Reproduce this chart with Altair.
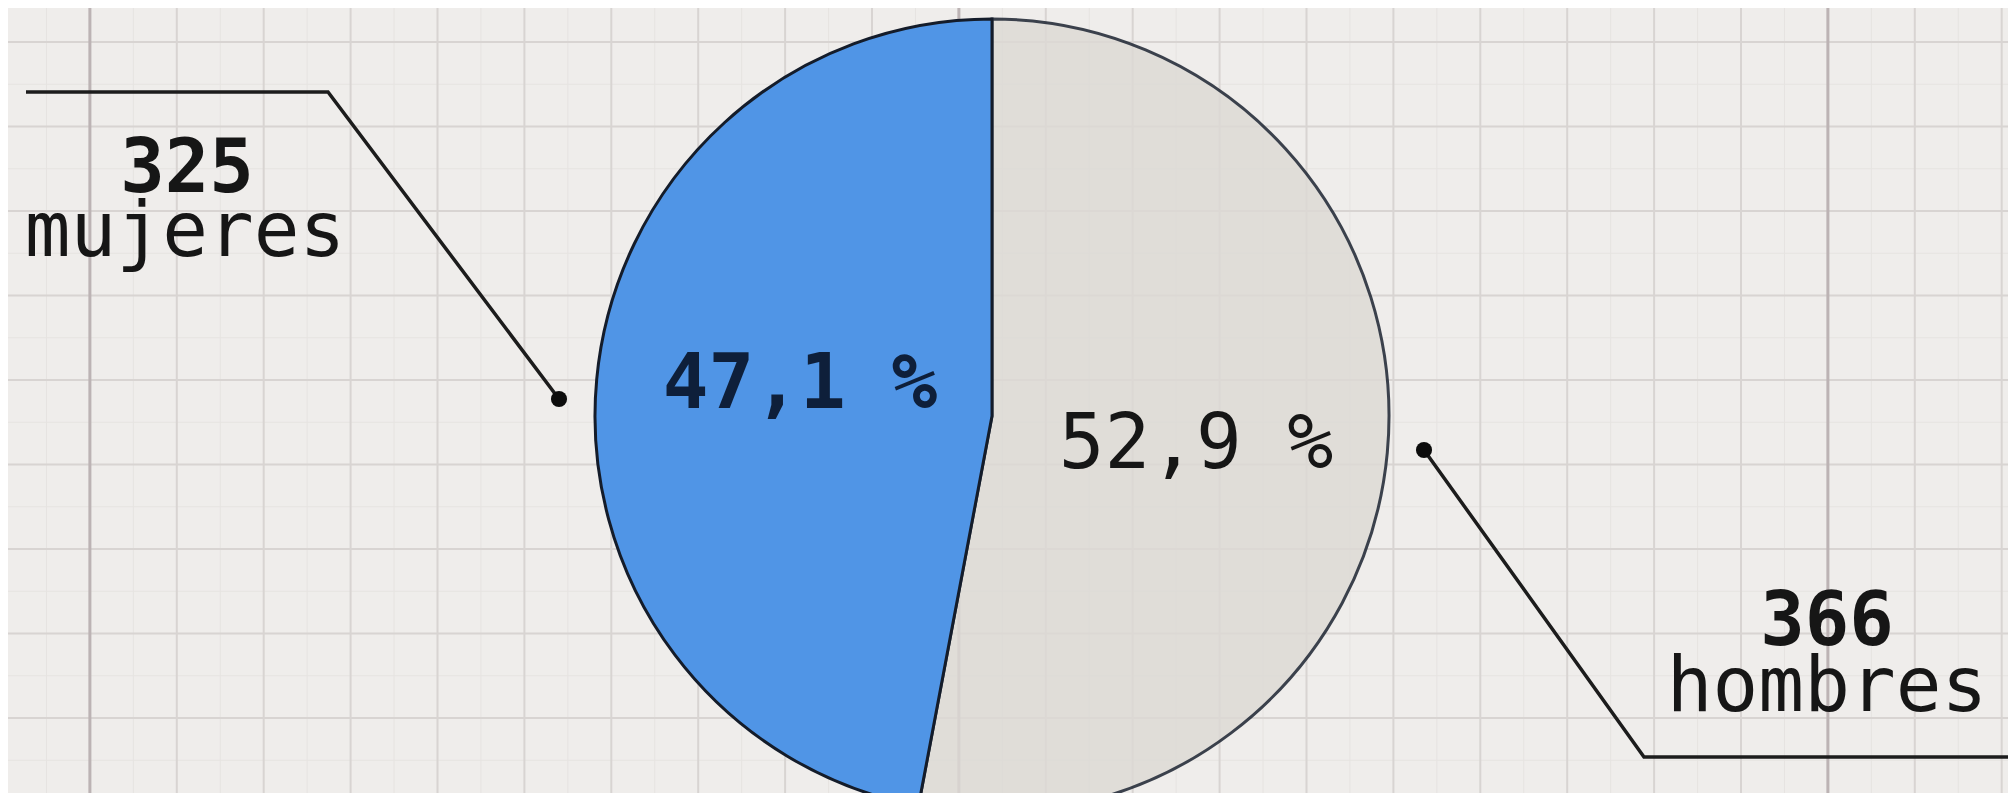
import altair as alt
import pandas as pd
import numpy as np

# ---------------- data ----------------
categories = ["hombres", "mujeres"]
counts = [366, 325]
percent_labels = ["52,9 %", "47,1 %"]
count_labels = ["366", "325"]
word_labels = ["hombres", "mujeres"]

# ---------------- layout (page pixels) ----------------
W, H = 2000, 785
OX, OY = 8, 8
PIE_CX, PIE_CY, PIE_R = 992, 416, 397
pct_pos = {"hombres": (1196, 468), "mujeres": (800, 408)}
count_pos = {"hombres": (1827, 645), "mujeres": (187, 192)}
word_pos = {"hombres": (1827, 711), "mujeres": (185, 256)}
leader_pts = {
    "mujeres": [(26, 92), (328, 92), (559, 399)],
    "hombres": [(1424, 450), (1644, 757), (2040, 757)],
}
dot_pts = {"mujeres": (559, 399), "hombres": (1424, 450)}

FONT = "DejaVu Sans Mono"
BG = "#efedeb"
BLUE = "#5095e6"
GREY = "#dddad5"
INK = "#161616"

xs = alt.Scale(domain=[OX, OX + W], range=[0, W])
ys = alt.Scale(domain=[OY, OY + H], range=[0, H])

# ---------------- graph-paper grid ----------------
cell_x, cell_y = 86.9, 84.5
vx_major = np.arange(3, 2016, cell_x)
vx_minor = vx_major + cell_x / 2
vx_dark = vx_major[1::10]
hy_major = np.arange(42, 807, cell_y)
hy_minor = np.concatenate([[42 - cell_y / 2], hy_major + cell_y / 2])


def vrules(vals, color, width):
    return alt.Chart(pd.DataFrame({"x": vals})).mark_rule(
        color=color, strokeWidth=width
    ).encode(
        x=alt.X("x:Q", scale=xs, axis=None),
        y=alt.value(0),
        y2=alt.value(H),
    )


def hrules(vals, color, width):
    return alt.Chart(pd.DataFrame({"y": vals})).mark_rule(
        color=color, strokeWidth=width
    ).encode(
        y=alt.Y("y:Q", scale=ys, axis=None),
        x=alt.value(0),
        x2=alt.value(W),
    )


grid = [
    vrules(vx_minor, "#e6e3e1", 1),
    hrules(hy_minor, "#e6e3e1", 1),
    vrules(vx_major, "#d8d4d2", 2),
    hrules(hy_major, "#d8d4d2", 2),
    vrules(vx_dark, "#bcb3b4", 3),
]

# ---------------- pie ----------------
pie_df = pd.DataFrame({"cat": categories, "n": counts, "ord": [0, 1]})
pie = alt.Chart(pie_df).mark_arc(
    outerRadius=PIE_R, stroke="#141c2a", strokeWidth=3, clip=True
).encode(
    theta=alt.Theta("n:Q", stack=True),
    order=alt.Order("ord:Q"),
    color=alt.Color(
        "cat:N",
        scale=alt.Scale(domain=categories, range=[GREY, BLUE]),
        legend=None,
    ),
    opacity=alt.Opacity(
        "cat:N", scale=alt.Scale(domain=categories, range=[0.82, 1.0]), legend=None
    ),
    x=alt.value(PIE_CX - OX),
    y=alt.value(PIE_CY - OY),
)

# ---------------- leader lines & dots ----------------
lrows = []
for c in categories:
    for i, (px, py) in enumerate(leader_pts[c]):
        lrows.append({"cat": c, "i": i, "x": px, "y": py})
leaders = alt.Chart(pd.DataFrame(lrows)).mark_line(
    color="#1c1c1c", strokeWidth=3.5, clip=True
).encode(
    x=alt.X("x:Q", scale=xs, axis=None),
    y=alt.Y("y:Q", scale=ys, axis=None),
    detail="cat:N",
    order="i:Q",
)

dots = alt.Chart(
    pd.DataFrame(
        {"cat": categories,
         "x": [dot_pts[c][0] for c in categories],
         "y": [dot_pts[c][1] for c in categories]}
    )
).mark_circle(size=260, color="#0c0c0c", opacity=1).encode(
    x=alt.X("x:Q", scale=xs, axis=None),
    y=alt.Y("y:Q", scale=ys, axis=None),
)

# ---------------- texts ----------------
def text_layer(labels, pos, weight, size, color):
    df = pd.DataFrame(
        {"t": labels,
         "x": [pos[c][0] for c in categories],
         "y": [pos[c][1] for c in categories]}
    )
    return alt.Chart(df).mark_text(
        font=FONT, fontSize=size, fontWeight=weight, color=color,
        align="center", baseline="alphabetic", lineHeight=size,
    ).encode(
        x=alt.X("x:Q", scale=xs, axis=None),
        y=alt.Y("y:Q", scale=ys, axis=None),
        text="t:N",
    )


pct_h = text_layer([percent_labels[0], ""], pct_pos, "normal", 76, INK)
pct_m = alt.Chart(
    pd.DataFrame({"t": [percent_labels[1]], "x": [pct_pos["mujeres"][0]], "y": [pct_pos["mujeres"][1]]})
).mark_text(
    font=FONT, fontSize=76, fontWeight="bold", color="#0e1f3a",
    align="center", baseline="alphabetic",
).encode(
    x=alt.X("x:Q", scale=xs, axis=None),
    y=alt.Y("y:Q", scale=ys, axis=None),
    text="t:N",
)
cnt = text_layer(count_labels, count_pos, "bold", 74, INK)
words = text_layer(word_labels, word_pos, "normal", 76, INK)

chart = alt.layer(
    *grid, pie, leaders, dots, pct_h, pct_m, cnt, words
).properties(
    width=W, height=H, background=BG, padding=0, autosize="none"
).configure_view(stroke=None)

chart.save("out.html", embed_options={"renderer": "svg", "actions": False})
